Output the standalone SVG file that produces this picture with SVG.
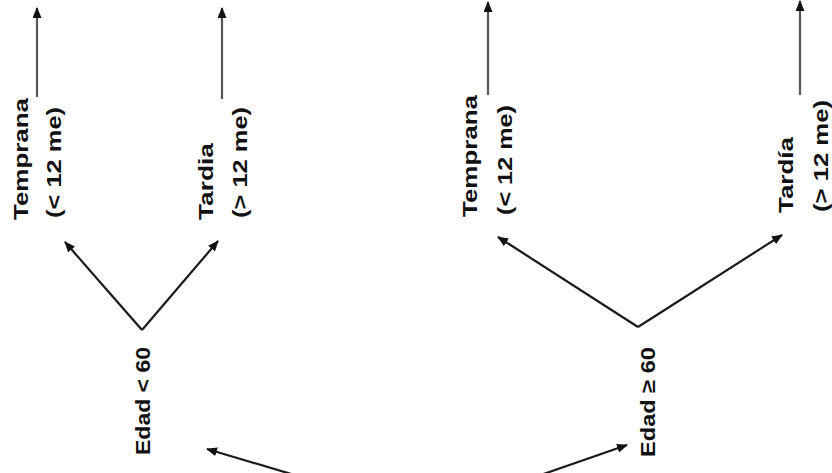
<svg xmlns="http://www.w3.org/2000/svg" width="832" height="473" viewBox="0 0 832 473">
<defs>
<marker id="ah" markerWidth="11" markerHeight="9" refX="10" refY="4.5" orient="auto" markerUnits="userSpaceOnUse">
<path d="M0,0 L11,4.5 L0,9 Z" fill="#111"/>
</marker>
<style>
.lbl{font-family:"Liberation Sans",Arial,sans-serif;font-weight:bold;font-size:20px;fill:#111}
.vline{stroke:#555;stroke-width:2.2;fill:none}
.dline{stroke:#1a1a1a;stroke-width:2.2;fill:none}
</style>
</defs>
<rect width="832" height="473" fill="#fff"/>
<g id="connectors">
<line class="vline" x1="37" y1="97" x2="37" y2="8" marker-end="url(#ah)"/>
<line class="vline" x1="222" y1="99" x2="222" y2="8" marker-end="url(#ah)"/>
<line class="vline" x1="488" y1="95" x2="488" y2="2" marker-end="url(#ah)"/>
<line class="vline" x1="800" y1="95" x2="800" y2="1" marker-end="url(#ah)"/>
<line class="dline" x1="142" y1="330" x2="65" y2="242" marker-end="url(#ah)"/>
<line class="dline" x1="142" y1="330" x2="218" y2="241" marker-end="url(#ah)"/>
<line class="dline" x1="638" y1="327" x2="498" y2="237" marker-end="url(#ah)"/>
<line class="dline" x1="638" y1="327" x2="782" y2="235" marker-end="url(#ah)"/>
<line class="dline" x1="298" y1="476" x2="207" y2="449" marker-end="url(#ah)"/>
<line class="dline" x1="532" y1="478" x2="627" y2="445" marker-end="url(#ah)"/>
</g>
<g id="node-temprana-1"><text class="lbl" transform="translate(28,220) rotate(-90)" textLength="122" lengthAdjust="spacingAndGlyphs">Temprana</text><text class="lbl" transform="translate(61,218) rotate(-90)" textLength="111" lengthAdjust="spacingAndGlyphs">(&lt; 12 me)</text></g>
<g id="node-tardia-1"><text class="lbl" transform="translate(213,220) rotate(-90)" textLength="77" lengthAdjust="spacingAndGlyphs">Tardia</text><text class="lbl" transform="translate(247,218) rotate(-90)" textLength="111" lengthAdjust="spacingAndGlyphs">(&gt; 12 me)</text></g>
<g id="node-temprana-2"><text class="lbl" transform="translate(477,217) rotate(-90)" textLength="122" lengthAdjust="spacingAndGlyphs">Temprana</text><text class="lbl" transform="translate(512,215) rotate(-90)" textLength="110" lengthAdjust="spacingAndGlyphs">(&lt; 12 me)</text></g>
<g id="node-tardia-2"><text class="lbl" transform="translate(793,213) rotate(-90)" textLength="76" lengthAdjust="spacingAndGlyphs">Tardía</text><text class="lbl" transform="translate(828,212) rotate(-90)" textLength="112" lengthAdjust="spacingAndGlyphs">(&gt; 12 me)</text></g>
<g id="node-edad-lt-60"><text class="lbl" transform="translate(150,455) rotate(-90)" textLength="108" lengthAdjust="spacingAndGlyphs">Edad &lt; 60</text></g>
<g id="node-edad-ge-60"><text class="lbl" transform="translate(655,457) rotate(-90)" textLength="110" lengthAdjust="spacingAndGlyphs">Edad ≥ 60</text></g>
</svg>
